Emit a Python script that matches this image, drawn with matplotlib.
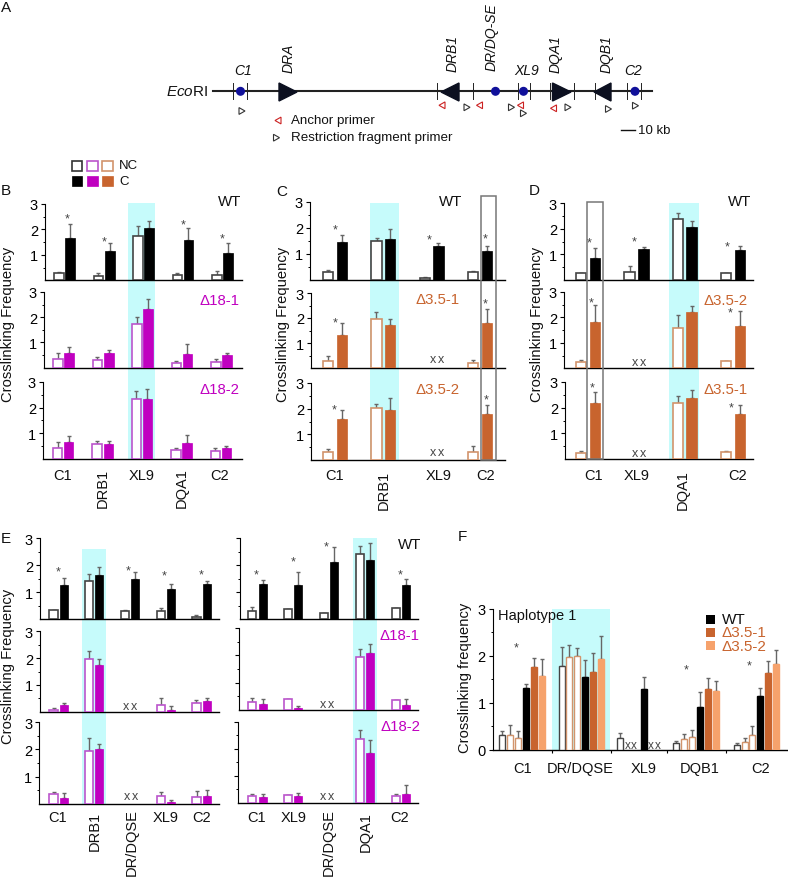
import numpy as np
import matplotlib
matplotlib.use('Agg')
import matplotlib.pyplot as plt
from matplotlib.patches import Polygon, Rectangle, Circle

plt.rcParams['font.family'] = ['Liberation Sans', 'DejaVu Sans']
plt.rcParams['mathtext.fontset'] = 'custom'
plt.rcParams['mathtext.rm'] = 'Liberation Sans'
plt.rcParams['mathtext.it'] = 'Liberation Sans:italic'

nan = np.nan

# bar heights and error bar tops
b_wt_nc = [0.30, 0.18, 1.75, 0.20, 0.22]
b_wt_c = [1.65, 1.17, 2.07, 1.57, 1.07]
b_wt_nc_top = [0.33, 0.30, 2.12, 0.27, 0.35]
b_wt_c_top = [2.23, 1.45, 2.33, 2.07, 1.48]
b_d1_nc = [0.33, 0.30, 1.72, 0.20, 0.22]
b_d1_c = [0.60, 0.58, 2.33, 0.53, 0.50]
b_d1_nc_top = [0.58, 0.42, 2.00, 0.28, 0.35]
b_d1_c_top = [0.83, 0.70, 2.73, 0.95, 0.60]
b_d2_nc = [0.43, 0.57, 2.33, 0.33, 0.30]
b_d2_c = [0.65, 0.57, 2.33, 0.62, 0.40]
b_d2_nc_top = [0.67, 0.68, 2.63, 0.43, 0.42]
b_d2_c_top = [0.88, 0.68, 2.73, 0.93, 0.50]

c_wt_nc = [0.31, 1.49, 0.07, 0.29]
c_wt_c = [1.45, 1.57, 1.30, 1.09]
c_wt_nc_top = [0.39, 1.62, 0.12, 0.32]
c_wt_c_top = [1.71, 1.94, 1.42, 1.30]
c_d1_nc = [0.27, 1.96, nan, 0.21]
c_d1_c = [1.32, 1.73, nan, 1.80]
c_d1_nc_top = [0.49, 2.25, nan, 0.33]
c_d1_c_top = [1.79, 1.96, nan, 2.35]
c_d2_nc = [0.30, 2.02, nan, 0.33]
c_d2_c = [1.58, 1.93, nan, 1.81]
c_d2_nc_top = [0.42, 2.18, nan, 0.53]
c_d2_c_top = [1.96, 2.43, nan, 2.14]

d_wt_nc = [0.26, 0.30, 2.36, 0.27]
d_wt_c = [0.85, 1.20, 2.05, 1.15]
d_wt_nc_top = [0.28, 0.56, 2.60, 0.29]
d_wt_c_top = [1.24, 1.28, 2.30, 1.34]
d_d2_nc = [0.24, nan, 1.60, 0.28]
d_d2_c = [1.83, nan, 2.20, 1.68]
d_d2_nc_top = [0.34, nan, 2.08, 0.30]
d_d2_c_top = [2.50, nan, 2.45, 2.24]
d_d1_nc = [0.25, nan, 2.19, 0.29]
d_d1_c = [2.18, nan, 2.36, 1.75]
d_d1_nc_top = [0.33, nan, 2.45, 0.30]
d_d1_c_top = [2.60, nan, 2.69, 2.10]

e1_wt_nc = [0.34, 1.40, 0.29, 0.31, 0.07]
e1_wt_c = [1.28, 1.64, 1.47, 1.12, 1.30]
e1_wt_nc_top = [0.34, 1.66, 0.34, 0.41, 0.15]
e1_wt_c_top = [1.52, 1.93, 1.74, 1.30, 1.40]
e1_d1_nc = [0.07, 1.97, nan, 0.25, 0.31]
e1_d1_c = [0.25, 1.75, nan, 0.07, 0.40]
e1_d1_nc_top = [0.12, 2.26, nan, 0.50, 0.45]
e1_d1_c_top = [0.34, 1.96, nan, 0.20, 0.52]
e1_d2_nc = [0.35, 1.95, nan, 0.27, 0.23]
e1_d2_c = [0.20, 2.00, nan, 0.05, 0.30]
e1_d2_nc_top = [0.42, 2.42, nan, 0.42, 0.47]
e1_d2_c_top = [0.38, 2.20, nan, 0.12, 0.52]

e2_wt_nc = [0.29, 0.37, 0.24, 2.40, 0.40]
e2_wt_c = [1.29, 1.28, 2.11, 2.20, 1.25]
e2_wt_nc_top = [0.43, 0.37, 0.24, 2.73, 0.40]
e2_wt_c_top = [1.44, 1.76, 2.69, 2.81, 1.47]
e2_d1_nc = [0.30, 0.38, nan, 1.93, 0.37]
e2_d1_c = [0.20, 0.05, nan, 2.10, 0.17]
e2_d1_nc_top = [0.42, 0.38, nan, 2.25, 0.37]
e2_d1_c_top = [0.38, 0.12, nan, 2.42, 0.38]
e2_d2_nc = [0.27, 0.30, nan, 2.37, 0.25]
e2_d2_c = [0.21, 0.25, nan, 1.86, 0.33]
e2_d2_nc_top = [0.32, 0.30, nan, 2.70, 0.35]
e2_d2_c_top = [0.32, 0.36, nan, 2.31, 0.68]

f_wt_nc = [0.32, 1.78, 0.26, 0.14, 0.09]
f_d1_nc = [0.32, 1.97, nan, 0.22, 0.16]
f_d2_nc = [0.26, 2.00, nan, 0.27, 0.31]
f_wt_c = [1.31, 1.56, 1.29, 0.90, 1.14]
f_d1_c = [1.76, 1.65, nan, 1.29, 1.63]
f_d2_c = [1.58, 1.93, nan, 1.26, 1.82]
f_wt_nc_top = [0.40, 2.19, 0.35, 0.19, 0.15]
f_d1_nc_top = [0.53, 2.23, nan, 0.33, 0.26]
f_d2_nc_top = [0.40, 2.17, nan, 0.43, 0.51]
f_wt_c_top = [1.40, 1.92, 1.54, 1.24, 1.31]
f_d1_c_top = [1.95, 2.06, nan, 1.52, 1.90]
f_d2_c_top = [1.94, 2.42, nan, 1.47, 2.13]

W, H = 788, 878
MAGENTA = '#c000c0'
MAGENTA_EDGE = '#bb55cc'
BROWN = '#c8642e'
BROWN_EDGE = '#d2946c'
LIGHT = '#f6a26c'
CYAN = '#c6fbfb'
GREY = '#666666'
DARK = '#444444'

fig = plt.figure(figsize=(W / 100, H / 100), dpi=100)

# pixel axes behind and in front of the chart axes
bg = fig.add_axes([0, 0, 1, 1], zorder=0)
bg.set_xlim(0, W)
bg.set_ylim(H, 0)
bg.axis('off')
fg = fig.add_axes([0, 0, 1, 1], zorder=5)
fg.set_xlim(0, W)
fg.set_ylim(H, 0)
fg.axis('off')
fg.patch.set_alpha(0)


def make_axes(left, top, right, base, spine=1.0):
    ax = fig.add_axes([left / W, 1 - base / H, (right - left) / W, (base - top) / H], zorder=2)
    ax.patch.set_alpha(0)
    ax.set_xlim(left, right)
    ax.set_ylim(0, 3)
    ax.spines['top'].set_visible(False)
    ax.spines['right'].set_visible(False)
    ax.spines['left'].set_linewidth(0.8)
    ax.spines['bottom'].set_linewidth(spine)
    ax.set_xticks([])
    return ax


def draw_pairs(rect, open_x, fill_x, nc, c, nc_top, c_top, face, edge, width=9.5, labels=True):
    ax = make_axes(*rect)
    ax.set_yticks([1, 2, 3])
    ax.set_yticks([0.5, 1.5, 2.5], minor=True)
    ax.tick_params(axis='y', which='major', length=3, width=0.8, pad=2, labelsize=10.5,
                   labelleft=labels)
    ax.tick_params(axis='y', which='minor', length=1.5, width=0.7)
    nc, c = np.array(nc), np.array(c)
    nc_err = np.array(nc_top) - nc
    c_err = np.array(c_top) - c
    ax.errorbar(open_x, nc, yerr=[0 * nc_err, nc_err], fmt='none', ecolor=GREY, elinewidth=1, capsize=1.5, zorder=2)
    ax.errorbar(fill_x, c, yerr=[0 * c_err, c_err], fmt='none', ecolor=GREY, elinewidth=1, capsize=1.5, zorder=2)
    ax.bar(open_x, nc, width, facecolor='white', edgecolor=edge, linewidth=1.2, zorder=3)
    ax.bar(fill_x, c, width, facecolor=face, edgecolor=face, linewidth=0.5, zorder=3)
    return ax


def star(x, y):
    fg.text(x, y + 5, '*', fontsize=9, color=DARK, ha='center', va='baseline')


def double_x(x, y):
    fg.text(x - 4, y, 'x', fontsize=9, color=DARK, ha='center', va='center')
    fg.text(x + 4, y, 'x', fontsize=9, color=DARK, ha='center', va='center')


def xlabel(x, y, s, rotated=False, size=10.5):
    fg.text(x, y, s, fontsize=size, ha='center', va='center', rotation=90 if rotated else 0, color='#111111')


def ylabel(x, y, s):
    fg.text(x, y, s, fontsize=10.6, ha='center', va='center', rotation=90, color='#111111')


def letter(x, y, s):
    fg.text(x, y, s, fontsize=11, ha='left', va='center', color='#111111')


def tag(x, y, s, color='#111111'):
    fg.text(x, y, s, fontsize=10.8, ha='center', va='center', color=color)


# panel A, schematic in pixel coordinates
bg.plot([213.5, 652.5], [92.3, 92.3], color='#222222', lw=1.5)
for x in [233.5, 247, 437.5, 473, 518.5, 530, 550, 574.5, 595, 627.5, 641.5]:
    bg.plot([x, x], [84, 100], color='#222222', lw=0.7)
for x in [240.5, 495.5, 523.5, 635]:
    bg.add_patch(Circle((x, 92.3), 3.8, color='#10109a', zorder=4))
for x0, x1 in [(279, 297), (552.5, 571), (459, 441), (611, 594)]:
    bg.add_patch(Polygon([(x0, 84), (x0, 102), (x1, 93)], color='#0c1020', zorder=3))


def primer(x, y, color, right):
    d = 3 if right else -3
    bg.add_patch(Polygon([(x - d, y - 3.4), (x - d, y + 3.4), (x + d, y)], facecolor='white',
                         edgecolor=color, linewidth=0.8, zorder=3))


for x, y in [(442, 106.3), (479.5, 106.3), (520.5, 106.3), (553.5, 109.3), (278, 121.5)]:
    primer(x, y, '#cc2222', False)
for x, y in [(242, 112), (467, 108.3), (511.5, 108.3), (523.5, 114.3), (568, 108.3),
             (608.5, 110), (635.5, 106.7), (276.5, 138.7)]:
    primer(x, y, '#333333', True)
for x, y, s, rot in [(243.5, 70.7, 'C1', 0), (289, 58.3, 'DRA', 90), (452.5, 54, 'DRB1', 90),
                     (492, 36.7, 'DR/DQ-SE', 90), (526.5, 70.7, 'XL9', 0), (556, 54, 'DQA1', 90),
                     (607, 54, 'DQB1', 90), (633.5, 70.7, 'C2', 0)]:
    fg.text(x, y, s, fontsize=10, style='italic', rotation=rot, ha='center', va='center', color='#111111')
fg.text(187.5, 92, r'$\mathit{Eco}$RI', fontsize=11, ha='center', va='center', color='#111111')
fg.text(291.5, 121.3, 'Anchor primer', fontsize=9.6, va='center', color='#111111')
fg.text(291.5, 138, 'Restriction fragment primer', fontsize=9.6, va='center', color='#111111')
bg.plot([621.5, 635], [131.3, 131.3], color='#111111', lw=1)
fg.text(638.5, 131.3, '10 kb', fontsize=9.5, va='center', color='#111111')

# legend above panel B
for x, col in zip([71.7, 87.3, 102.5], ['#333333', MAGENTA_EDGE, BROWN_EDGE]):
    bg.add_patch(Rectangle((x, 162), 10.3, 9.7, facecolor='white', edgecolor=col, linewidth=1.2))
for x, col in zip([71.7, 87.3, 102.5], ['black', MAGENTA, BROWN]):
    bg.add_patch(Rectangle((x, 177), 10.3, 10, facecolor=col, edgecolor=col, linewidth=0.5))
fg.text(119.3, 165.7, 'NC', fontsize=9.5, va='center', color='#111111')
fg.text(119.3, 181.7, 'C', fontsize=9.5, va='center', color='#111111')

# panel B
bg.add_patch(Rectangle((128, 204), 27, 256, color=CYAN, lw=0))
bx_open = [59, 98.5, 138, 177.5, 217]
bx_fill = [70, 110, 149, 188.5, 228]
draw_pairs((45, 205, 242, 281.3), bx_open, bx_fill, b_wt_nc, b_wt_c, b_wt_nc_top, b_wt_c_top, 'black', DARK)
draw_pairs((44, 293, 242, 368.7), [x - 1 for x in bx_open], [x - 1 for x in bx_fill], b_d1_nc, b_d1_c, b_d1_nc_top, b_d1_c_top, MAGENTA, MAGENTA_EDGE)
draw_pairs((43, 383, 242, 459.7), [x - 1.5 for x in bx_open], [x - 1.5 for x in bx_fill], b_d2_nc, b_d2_c, b_d2_nc_top, b_d2_c_top, MAGENTA, MAGENTA_EDGE)
for x, y in [(66.7, 217.7), (104, 240.7), (183, 223), (222, 237.3)]:
    star(x, y)
tag(230, 202, 'WT')
tag(220, 301, '\u039418-1', MAGENTA)
tag(220, 390, '\u039418-2', MAGENTA)
ylabel(8.5, 324, 'Crosslinking Frequency')
for x, s in [(62.7, 'C1'), (141.7, 'XL9'), (220, 'C2')]:
    xlabel(x, 476, s)
xlabel(103, 488, 'DRB1', True)
xlabel(182, 488, 'DQA1', True)
letter(1, 191, 'B')

# panel C
bg.add_patch(Rectangle((369.7, 204), 29.3, 257, color=CYAN, lw=0))
cx_open = [328, 376.5, 425, 473]
cx_fill = [342, 390, 438.5, 487]
draw_pairs((310, 203, 505, 280.7), cx_open, cx_fill, c_wt_nc, c_wt_c, c_wt_nc_top, c_wt_c_top, 'black', DARK, 10.5)
draw_pairs((311, 294, 505, 369), cx_open, cx_fill, c_d1_nc, c_d1_c, c_d1_nc_top, c_d1_c_top, BROWN, BROWN_EDGE, 10.5)
draw_pairs((311, 384, 505, 461), cx_open, cx_fill, c_d2_nc, c_d2_c, c_d2_nc_top, c_d2_c_top, BROWN, BROWN_EDGE, 10.5)
fg.add_patch(Rectangle((481, 196.7), 15.3, 264.3, fill=False, edgecolor='#777777', linewidth=1.1))
for x, y in [(335.3, 228.3), (429.3, 238), (485.3, 237.3), (335.3, 321.3), (485, 302), (333.7, 408), (485.7, 398.3)]:
    star(x, y)
double_x(436.7, 360)
double_x(437.3, 453)
tag(450.7, 202.3, 'WT')
tag(437.3, 300, '\u03943.5-1', BROWN)
tag(437.3, 390, '\u03943.5-2', BROWN)
ylabel(283, 324, 'Crosslinking Frequency')
for x, s in [(335, 'C1'), (438.7, 'XL9'), (486, 'C2')]:
    xlabel(x, 476, s)
xlabel(384, 490, 'DRB1', True)
letter(276, 191.5, 'C')

# panel D
bg.add_patch(Rectangle((669, 204), 30, 256, color=CYAN, lw=0))
dx_open = [581, 629.5, 678, 726]
dx_fill = [595, 643.5, 691.5, 740]
draw_pairs((564, 204, 753, 281), dx_open, dx_fill, d_wt_nc, d_wt_c, d_wt_nc_top, d_wt_c_top, 'black', DARK, 10.5)
draw_pairs((564, 293, 753, 369.3), dx_open, dx_fill, d_d2_nc, d_d2_c, d_d2_nc_top, d_d2_c_top, BROWN, BROWN_EDGE, 10.5)
draw_pairs((565, 383, 753, 460), dx_open, dx_fill, d_d1_nc, d_d1_c, d_d1_nc_top, d_d1_c_top, BROWN, BROWN_EDGE, 10.5)
fg.add_patch(Rectangle((586.7, 203), 16.6, 257, fill=False, edgecolor='#777777', linewidth=1.1))
for x, y in [(589.3, 241.7), (633.7, 240.7), (726.7, 245.7), (591.3, 301), (730.3, 311), (592.3, 386.7), (731, 406)]:
    star(x, y)
double_x(639, 362.7)
double_x(639, 453.7)
tag(740, 202, 'WT')
tag(726, 300.7, '\u03943.5-2', BROWN)
tag(725.3, 390, '\u03943.5-1', BROWN)
ylabel(536.7, 324.5, 'Crosslinking Frequency')
for x, s in [(594, 'C1'), (637, 'XL9'), (738, 'C2')]:
    xlabel(x, 476, s)
xlabel(683, 490, 'DQA1', True)
letter(529, 191, 'D')

# panel E left
bg.add_patch(Rectangle((82.3, 550), 24, 254.7, color=CYAN, lw=0))
e1x_open = [53.5, 89, 125, 161, 196.5]
e1x_fill = [63.7, 99.3, 135.3, 171.3, 207]
draw_pairs((40, 539.3, 219, 620), e1x_open, e1x_fill, e1_wt_nc, e1_wt_c, e1_wt_nc_top, e1_wt_c_top, 'black', DARK, 8.3)
draw_pairs((40, 632.3, 219, 712.7), e1x_open, e1x_fill, e1_d1_nc, e1_d1_c, e1_d1_nc_top, e1_d1_c_top, MAGENTA, MAGENTA_EDGE, 8.3)
draw_pairs((39.3, 723.3, 219, 804.7), e1x_open, e1x_fill, e1_d2_nc, e1_d2_c, e1_d2_nc_top, e1_d2_c_top, MAGENTA, MAGENTA_EDGE, 8.3)
for x, y in [(58, 570), (127.7, 569.7), (164.3, 574.3), (200.7, 573)]:
    star(x, y)
double_x(130, 706.7)
double_x(130.7, 797)
ylabel(8.5, 666, 'Crosslinking Frequency')
for x, s in [(57.7, 'C1'), (166, 'XL9'), (201.7, 'C2')]:
    xlabel(x, 818, s)
xlabel(94.7, 831.7, 'DRB1', True)
xlabel(132, 843, 'DR/DQSE', True)
letter(1, 539, 'E')

# panel E right
bg.add_patch(Rectangle((353, 539.3), 24, 264.7, color=CYAN, lw=0))
e2x_open = [252.3, 288, 324, 360, 395.7]
e2x_fill = [262.7, 298.3, 334.3, 370.2, 406]
draw_pairs((239.7, 539.3, 418, 620), e2x_open, e2x_fill, e2_wt_nc, e2_wt_c, e2_wt_nc_top, e2_wt_c_top, 'black', DARK, 8.3, False)
draw_pairs((239, 629.3, 418, 710.7), e2x_open, e2x_fill, e2_d1_nc, e2_d1_c, e2_d1_nc_top, e2_d1_c_top, MAGENTA, MAGENTA_EDGE, 8.3, False)
draw_pairs((238, 722.7, 418, 804), e2x_open, e2x_fill, e2_d2_nc, e2_d2_c, e2_d2_nc_top, e2_d2_c_top, MAGENTA, MAGENTA_EDGE, 8.3, False)
for x, y in [(256.3, 573), (292.7, 560.3), (326.3, 545.7), (400.3, 573.7)]:
    star(x, y)
double_x(326.7, 705.3)
double_x(327.3, 796.7)
tag(410, 545, 'WT')
tag(400, 636, '\u039418-1', MAGENTA)
tag(400.7, 726.7, '\u039418-2', MAGENTA)
for x, s in [(256.7, 'C1'), (293.3, 'XL9'), (400, 'C2')]:
    xlabel(x, 818, s)
xlabel(329, 843, 'DR/DQSE', True)
xlabel(365.7, 831.7, 'DQA1', True)

# panel F
bg.add_patch(Rectangle((552.3, 610), 57.7, 140.7, color=CYAN, lw=0))
ax = make_axes(492.7, 610, 788, 750.7)
ax.set_yticks([0, 1, 2, 3])
ax.set_yticks([0.5, 1.5, 2.5], minor=True)
ax.tick_params(axis='y', which='major', length=3, width=0.8, pad=2, labelsize=10.5)
ax.tick_params(axis='y', which='minor', length=1.5, width=0.7)
ax.set_xticks([551.7, 610.7, 666.7, 726])
ax.tick_params(axis='x', length=2.5, width=0.8, labelbottom=False)
f_pos = [[502.3, 561.5, 620.2, 676.2, 736.5],
         [510.3, 569.2, 627.3, 684, 744.5],
         [518.3, 577, 634, 692, 752.3],
         [526, 584.8, 643.7, 699.8, 760.2],
         [533.8, 592.8, 650.7, 707.8, 768.2],
         [541.7, 600.5, 657.3, 715.5, 775.8]]
f_vals = [f_wt_nc, f_d1_nc, f_d2_nc, f_wt_c, f_d1_c, f_d2_c]
f_tops = [f_wt_nc_top, f_d1_nc_top, f_d2_nc_top, f_wt_c_top, f_d1_c_top, f_d2_c_top]
f_face = ['white', 'white', 'white', 'black', BROWN, LIGHT]
f_edge = [DARK, BROWN_EDGE, BROWN_EDGE, 'black', BROWN, LIGHT]
for xs, v, top, fc, ec in zip(f_pos, f_vals, f_tops, f_face, f_edge):
    v = np.array(v)
    err = np.array(top) - v
    ax.errorbar(xs, v, yerr=[0 * err, err], fmt='none', ecolor=GREY, elinewidth=1, capsize=1.3, zorder=2)
    ax.bar(xs, v, 6, facecolor=fc, edgecolor=ec, linewidth=1, zorder=3)
for x, y in [(515.7, 646.7), (686, 668.3), (749, 664.7)]:
    star(x, y)
for x in [627.3, 634, 650.7, 657.3]:
    fg.text(x, 745.7, 'x', fontsize=8.5, color=DARK, ha='center', va='center')
fg.text(536.7, 616, 'Haplotype 1', fontsize=10.5, ha='center', va='center', color='#111111')
for y, col, s, tc in [(616, 'black', 'WT', '#111111'), (629, BROWN, '\u03943.5-1', BROWN), (642.3, LIGHT, '\u03943.5-2', BROWN)]:
    fg.add_patch(Rectangle((706, y), 9, 8.7, color=col, lw=0))
    fg.text(721.5, y + 4.3, s, fontsize=11, va='center', color=tc)
ylabel(465, 678, 'Crosslinking frequency')
for x, s in [(522.3, 'C1'), (580, 'DR/DQSE'), (643.3, 'XL9'), (699.3, 'DQB1'), (760.7, 'C2')]:
    xlabel(x, 769.3, s)
letter(458, 537.5, 'F')
letter(1, 8, 'A')

fig.savefig('out.png', dpi=100)
